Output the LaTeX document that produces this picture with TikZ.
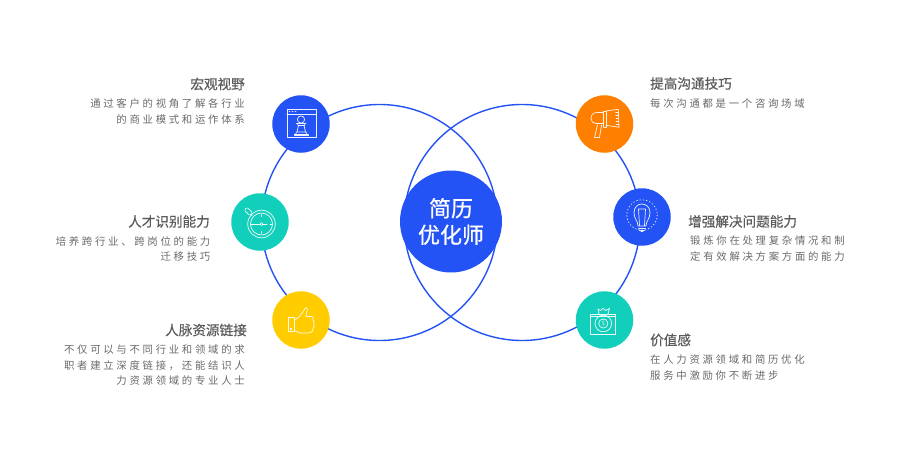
\documentclass[tikz,border=0pt]{standalone}
\usepackage{fontspec}
\setmainfont{Noto Sans CJK SC}
\newfontfamily\bodyf[LetterSpace=26]{Noto Sans CJK SC}
\newfontfamily\titlef[FakeBold=0.6]{Noto Sans CJK SC}
\newfontfamily\centerf[FakeBold=0.6]{Noto Sans CJK SC}
\definecolor{cblue}{HTML}{2453F5}
\definecolor{cteal}{HTML}{12CFBB}
\definecolor{cyellow}{HTML}{FFCC00}
\definecolor{corange}{HTML}{FF7F00}
\definecolor{ctitle}{HTML}{5C5C5C}
\definecolor{cbody}{HTML}{6A6A6A}
\tikzset{
  ring/.style={circle,draw=cblue,line width=1.4pt,minimum size=236pt,inner sep=0pt},
  badge/.style={circle,minimum size=57.5pt,inner sep=0pt},
  titletext/.style={inner sep=0pt,text=ctitle,font=\titlef\fontsize{13.6}{16}\selectfont},
  bodyr/.style={inner sep=0pt,text=cbody,align=right,anchor=north east,font=\bodyf\fontsize{10.4}{15.6}\selectfont},
  bodyl/.style={inner sep=0pt,text=cbody,align=left,anchor=north west,font=\bodyf\fontsize{10.4}{15.6}\selectfont},
  icon/.style={draw=white,line width=0.7pt,line join=round,line cap=round,opacity=.92},
}
\begin{document}
\begin{tikzpicture}[x=1pt,y=-1pt]
\useasboundingbox (0,0) rectangle (900,450);
\node[ring] (ringL) at (379.5,222.5) {};
\node[ring] (ringR) at (522,222.5) {};
\node[circle,fill=cblue,minimum size=102pt,inner sep=0pt,align=center,text=white,font=\centerf\fontsize{22}{26.5}\selectfont] (hub) at (451,221.5) {简历\\优化师};
\node[badge,fill=cblue] (b1) at (301,124) {};
\node[badge,fill=cteal] (b2) at (260,222) {};
\node[badge,fill=cyellow] (b3) at (301,320) {};
\node[badge,fill=corange] (b4) at (604.5,124) {};
\node[badge,fill=cblue] (b5) at (642,217) {};
\node[badge,fill=cteal] (b6) at (604.5,320) {};

% icon 1: browser window with chess piece
\draw[icon] (287,109.5) rectangle (316,137.5);
\draw[icon] (287,114) -- (316,114);
\draw[icon,line width=.5pt] (289,111.7) -- (290,111.7) (292,111.7) -- (293,111.7) (295,111.7) -- (296,111.7);
\draw[icon] (301,119.5) circle (3.6);
\draw[icon] (296.5,123.5) -- (306,123.5) (297.5,123.5) -- (298,125.5) -- (304.5,125.5) -- (305,123.5);
\draw[icon] (298.5,125.5) -- (297,132) (304,125.5) -- (305.5,132);
\draw[icon] (296.5,132) -- (306,132) -- (307,134.5) -- (295.5,134.5) -- cycle;
\draw[icon] (294.5,134.5) rectangle (308,135.8);

% icon 2: stopwatch
\draw[icon] (261.5,224) circle (13.8);
\draw[icon] (261.5,224) circle (11);
\draw[icon] (261.5,224) circle (1.5);
\draw[icon] (253,224) -- (260,224) (263,224) -- (267,224);
\draw[icon] (261.5,214.5) -- (261.5,216.5) (261.5,231.5) -- (261.5,233.5) (270,224) -- (272,224) (251,224) -- (253,224);
\draw[icon,rotate around={-45:(248.5,211.5)},rounded corners=1.2pt] (244.5,209.5) rectangle (252.5,213.5);
\draw[icon] (250.5,214) -- (252,215.5);

% icon 3: thumb up
\draw[icon] (288.3,317.5) rectangle (294.3,331.7);
\draw[icon,fill=white] (290.3,328.3) rectangle (291.3,329.3);
\draw[icon,rounded corners=1pt] (294.3,320) -- (299,317) -- (303,312) -- (305.5,307.5) -- (307.3,308) -- (307,312) -- (305.5,316.5)
  -- (312.5,316.5) -- (313.5,318.5) -- (312.5,320.5) -- (314.5,321.5) -- (313.5,324.5) -- (314.5,326) -- (313,328.5) -- (312.5,331.5) -- (309,333) -- (300,333) -- (294.3,330.5);

% icon 4: megaphone
\draw[icon] (603.5,111.5) rectangle (606,127);
\draw[icon] (606,111) -- (618.3,109.3) -- (619,127.3) -- (606,125.3);
\draw[icon,line width=.5pt] (615.5,112) -- (618,112) (615.7,115) -- (618.2,115) (616,118) -- (618.4,118) (616,121) -- (618.6,121) (616,124) -- (618.7,124);
\draw[icon] (603.5,112.5) -- (597,112.5) .. controls (593,112.5) and (591,115) .. (591,118.5) .. controls (591,121.5) and (593,123.5) .. (596,123.5) -- (603.5,123.5);
\draw[icon] (597.5,125) -- (594.5,137.5) -- (599.5,137.5) -- (601.5,125);

% icon 5: light bulb
\draw[icon,line width=.8pt,dash pattern=on .8pt off 2.5pt] (642,215) circle (15.2);
\draw[icon] (638,226) .. controls (638,221) and (634,219) .. (634,212.5) .. controls (634,207) and (638,204) .. (641.7,204) .. controls (646,204) and (650,207) .. (650,212.5) .. controls (650,219) and (646,221) .. (646,226) -- cycle;
\draw[icon] (638.5,209) -- (645.5,209) -- (644.5,225.5) (638.5,209) -- (639.5,225.5);
\draw[icon] (638.5,228) -- (645.5,228) (639.5,230) -- (644.5,230) (641,231.7) -- (643,231.7);

% icon 6: money bag on frame
\draw[icon] (590.5,314) rectangle (615.5,334);
\draw[icon] (590.5,316) -- (615.5,316);
\draw[icon] (603.3,323.5) circle (8.3);
\draw[icon] (603.3,323.5) circle (4.6);
\node[inner sep=0pt,text=white,font=\fontsize{5.5}{6}\selectfont] (dollar) at (603.3,323.5) {\$};
\draw[icon] (599,314) -- (598,309) -- (600.5,310.5) -- (603,308.3) -- (605.5,310.5) -- (609.5,308.5) -- (608,314);

% texts
\node[titletext,anchor=east] (t1) at (245,84) {宏观视野};
\node[bodyr] (d1) at (245,98.5) {通过客户的视角了解各行业\\的商业模式和运作体系};
\node[titletext,anchor=east] (t2) at (210,221.5) {人才识别能力};
\node[bodyr] (d2) at (210.5,236) {培养跨行业、跨岗位的能力\\迁移技巧};
\node[titletext,anchor=east] (t3) at (247,330) {人脉资源链接};
\node[bodyr] (d3) at (245,344.5) {不仅可以与不同行业和领域的求\\职者建立深度链接，还能结识人\\力资源领域的专业人士};
\node[titletext,anchor=west] (t4) at (650,83.5) {提高沟通技巧};
\node[bodyl] (d4) at (650,98.5) {每次沟通都是一个咨询场域};
\node[titletext,anchor=west] (t5) at (688,221.5) {增强解决问题能力};
\node[bodyl] (d5) at (690,236) {锻炼你在处理复杂情况和制\\定有效解决方案方面的能力};
\node[titletext,anchor=west] (t6) at (650,340) {价值感};
\node[bodyl] (d6) at (650,354.5) {在人力资源领域和简历优化\\服务中激励你不断进步};
\end{tikzpicture}
\end{document}
